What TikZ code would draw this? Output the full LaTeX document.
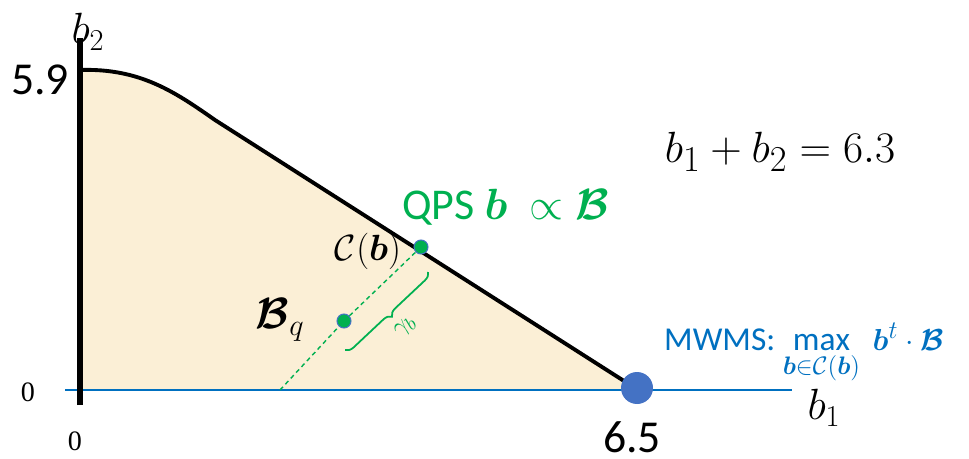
\documentclass[tikz,border=0pt]{standalone}
\usepackage{fontspec}
\setmainfont{Carlito}
\newfontfamily\tnr{Liberation Serif}
\usepackage{amsmath}
\usepackage{bm}
\usetikzlibrary{decorations.pathreplacing, calc}
\definecolor{regionfill}{HTML}{FBEFD6}
\definecolor{axisblue}{HTML}{0070C0}
\definecolor{dotblue}{HTML}{4472C4}
\definecolor{qpsgreen}{HTML}{00B050}

\begin{document}
\begin{tikzpicture}[x=0.02cm, y=-0.02cm,
    bigmath/.style={font=\fontsize{27}{30}\selectfont},
    gdot/.style={circle, fill=qpsgreen, draw=dotblue, line width=0.6pt, inner sep=0pt, minimum size=0.28cm}]
            \useasboundingbox (0,0) rectangle (969,459);

            % capacity region
            \fill[regionfill] (80,390) -- (80,70) .. controls (140,68) and (175,92) .. (215,120) -- (635,388) -- (635,390) -- cycle;
            \draw[line width=2.2pt] (80,70) .. controls (140,68) and (175,92) .. (215,120) -- (635,388);

            \draw[axisblue, line width=1.7pt] (65,390) -- (792,390);
            \draw[line width=3.4pt] (80,405) -- (80,38);

            \node[bigmath] (b2lab) at (88,32) {$b_2$};
            \node[font=\fontsize{26}{30}\selectfont] (top) at (40,80) {5.9};
            \node[font=\tnr\fontsize{16}{18}\selectfont] (zeroy) at (28,392) {0};
            \node[font=\tnr\fontsize{16}{18}\selectfont] (zerox) at (75,441) {0};
            \node[font=\fontsize{26}{30}\selectfont, inner sep=1pt] (right) at (632,437) {6.5};
            \node[bigmath] (b1lab) at (824,408) {$b_1$};
            \node[font=\fontsize{31}{34}\selectfont] (sumlab) at (780,152) {$b_1+b_2=6.3$};

            % dots
            \node[circle, fill=dotblue, inner sep=0pt, minimum size=0.64cm] (mwms) at (637,388) {};
            \node[gdot] (qps) at (421,247) {};
            \node[gdot] (bq) at (344,321) {};
            \coordinate (foot) at (280,390);
            \draw[qpsgreen, line width=0.8pt, dash pattern=on 2.5pt off 2pt] (foot) -- (bq) -- (qps);

            \node[font=\fontsize{25}{28}\selectfont, text=qpsgreen, anchor=base west] (qpslab) at (396,219) {QPS $\bm{b}$\enspace$\propto\bm{\mathcal{B}}$};
            \node[font=\fontsize{22}{24}\selectfont] (clab) at (368,251) {$\mathcal{C}(\bm{b})$};
            \node[font=\fontsize{24}{26}\selectfont] (bqlab) at (280,320) {$\bm{\mathcal{B}}_q$};
            \node[font=\fontsize{19}{22}\selectfont, text=axisblue, anchor=base west] (mwmslab) at (658,350) {MWMS: $\max\limits_{\bm{b}\in\mathcal{C}(\bm{b})}\ \bm{b}^t\cdot\bm{\mathcal{B}}$};

            % gap brace
            \coordinate (bra) at (428,272);
            \coordinate (brb) at (345,350);
            \draw[qpsgreen, line width=1pt, decorate, decoration={brace, amplitude=0.16cm}] (bra) -- (brb) node[midway, xshift=0.38cm, yshift=-0.32cm, rotate=45, font=\fontsize{15}{17}\selectfont] (gam) {$\gamma_b$};
        \end{tikzpicture}
\end{document}
